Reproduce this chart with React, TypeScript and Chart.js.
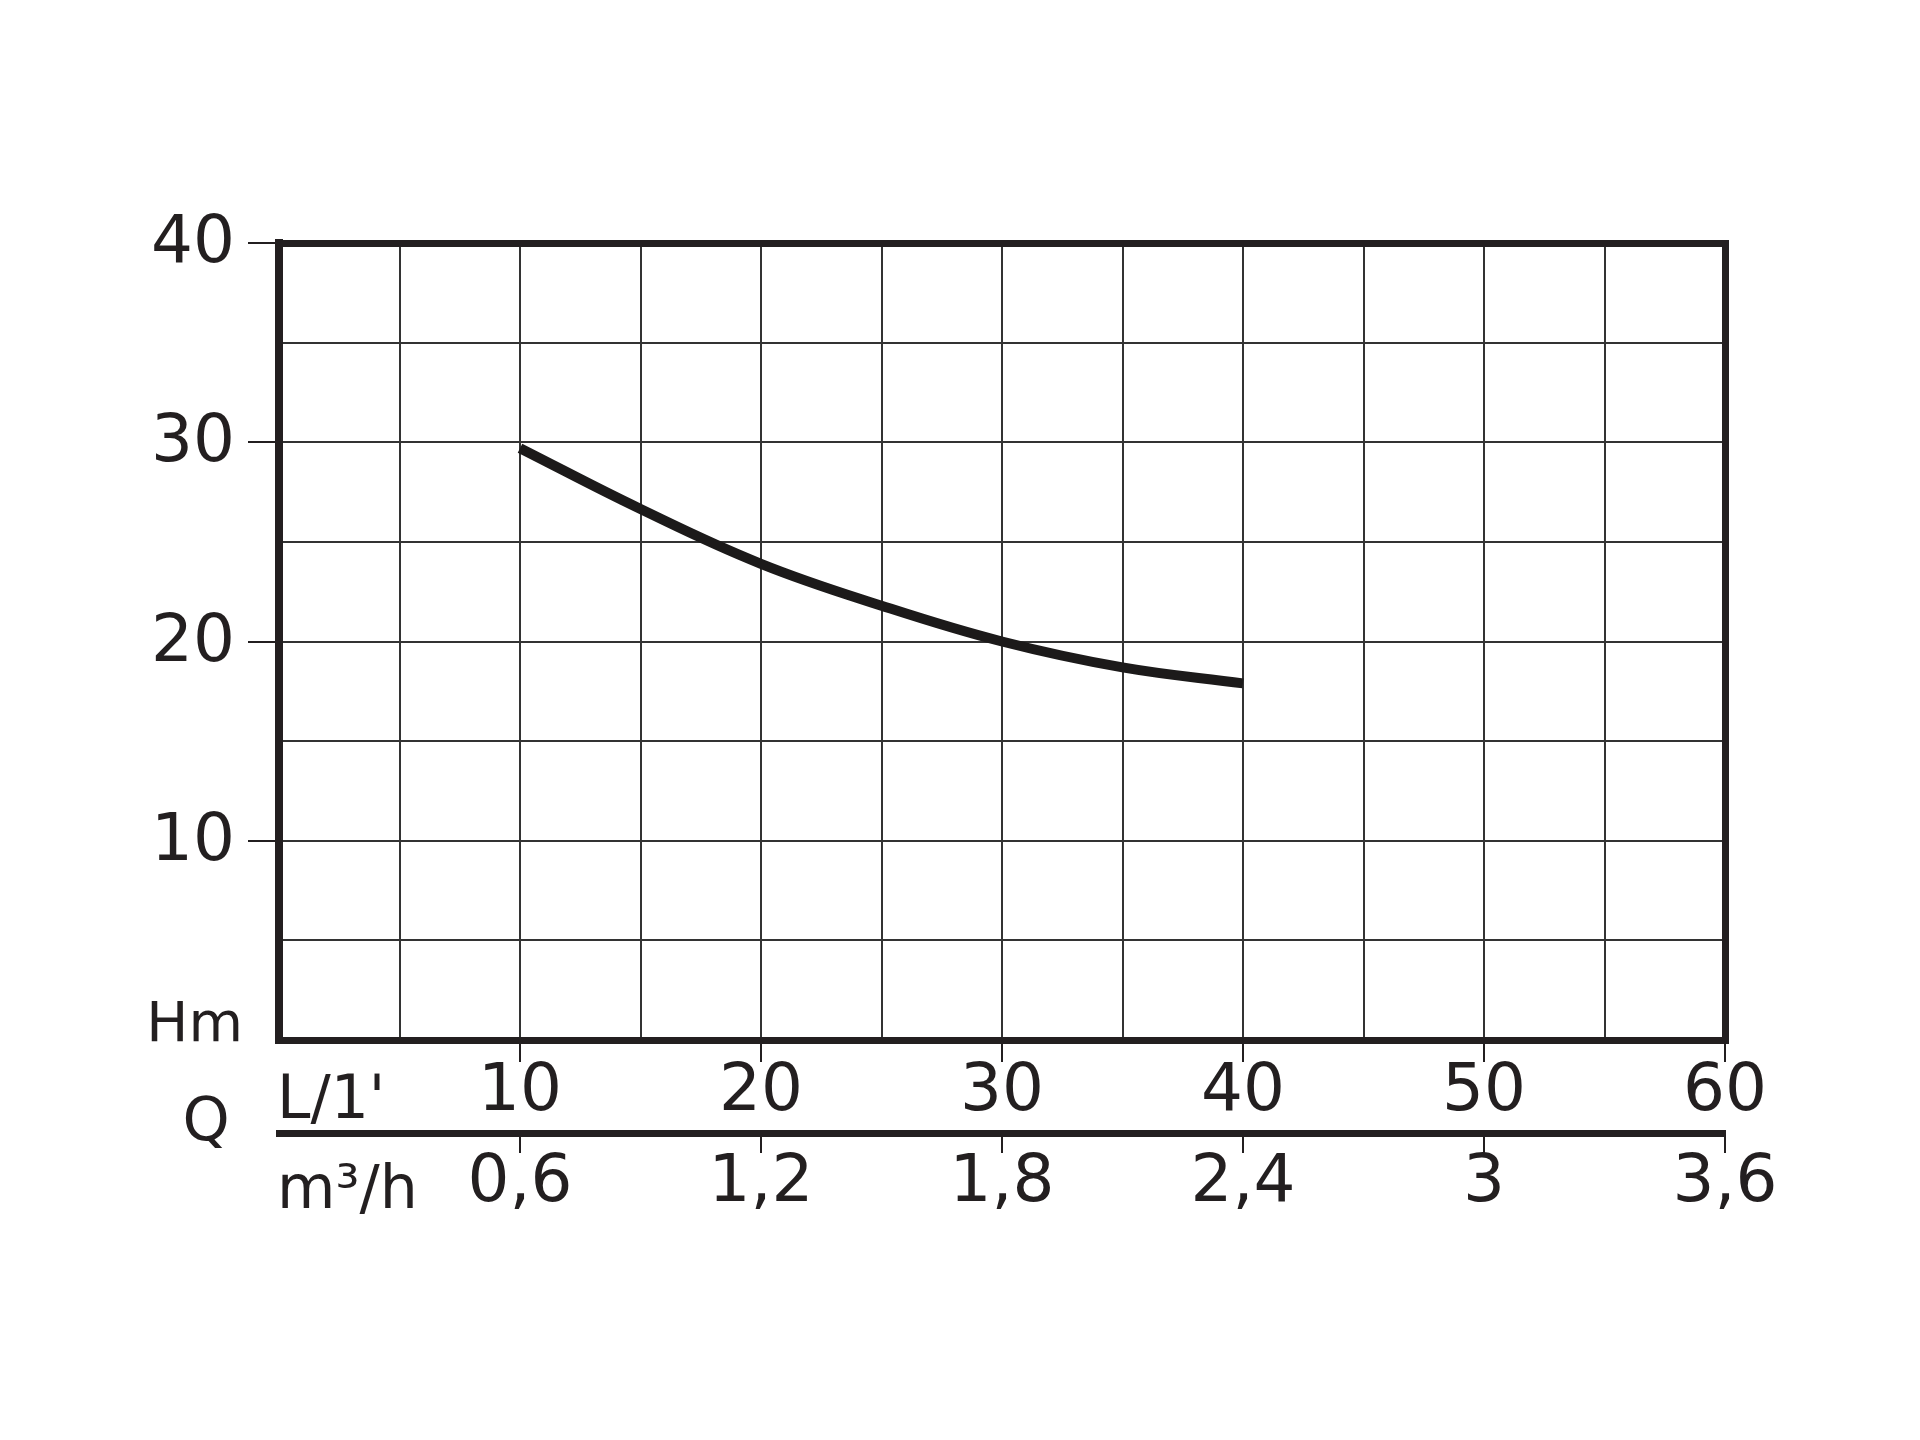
import { useEffect, useRef } from 'react';
import { Chart, registerables } from 'chart.js';

Chart.register(...registerables);

// ---- data ----
const flowLpm = [10, 15, 20, 25, 30, 35, 40];
const headM = [29.7, 26.65, 23.9, 21.8, 20.0, 18.7, 17.9];

const yLabelValues = [10, 20, 30, 40];
const yLabels = ['10', '20', '30', '40'];
const yUnit = 'Hm';

const xLabelValues = [10, 20, 30, 40, 50, 60];
const xLabelsLpm = ['10', '20', '30', '40', '50', '60'];
const xLabelsM3h = ['0,6', '1,2', '1,8', '2,4', '3', '3,6'];

const qLabel = 'Q';
const lpmUnit = "L/1'";
const m3hUnit = 'm³/h';

// ---- styles ----
const FONT = "'DejaVu Sans', sans-serif";
const INK = '#231f20';
const GRID = '#333333';
const CLEAR = 'rgba(0,0,0,0)';

const unitLabels = {
  id: 'unitLabels',
  afterDraw(chart: any) {
    const { ctx, scales } = chart;
    const xs = scales.x;
    const xs2 = scales.x2;
    const ys = scales.y;
    ctx.save();
    ctx.fillStyle = INK;
    ctx.textBaseline = 'alphabetic';
    ctx.font = `60px ${FONT}`;
    ctx.textAlign = 'left';
    ctx.fillText(lpmUnit, xs.left - 2, xs.top + 78);
    ctx.fillText(m3hUnit, xs2.left - 2, xs2.top + 75);
    ctx.textAlign = 'center';
    ctx.fillText(qLabel, xs.left - 73, xs2.top + 7);
    ctx.font = `56px ${FONT}`;
    ctx.textAlign = 'right';
    ctx.fillText(yUnit, ys.right - 36, ys.getPixelForValue(0) + 1);
    ctx.restore();
  },
};

export default function App() {
  const ref = useRef<HTMLCanvasElement | null>(null);

  useEffect(() => {
    if (!ref.current) return;
    const chart = new Chart(ref.current, {
      type: 'line',
      data: {
        datasets: [
          {
            data: flowLpm.map((x, i) => ({ x, y: headM[i] })),
            borderColor: '#1c1a1a',
            borderWidth: 10,
            borderCapStyle: 'butt',
            pointRadius: 0,
            tension: 0.4,
            fill: false,
          },
        ],
      },
      options: {
        animation: false,
        responsive: false,
        devicePixelRatio: 1,
        layout: { padding: { left: 0, top: 243, right: 195, bottom: 0 } },
        plugins: { legend: { display: false }, tooltip: { enabled: false } },
        scales: {
          x: {
            type: 'linear',
            position: 'bottom',
            min: 0,
            max: 60,
            afterFit: (s: any) => {
              s.height = 93;
            },
            ticks: {
              stepSize: 5,
              autoSkip: false,
              maxRotation: 0,
              padding: -2,
              color: INK,
              font: { family: FONT, size: 66, lineHeight: 1 },
              callback: (v: any) => {
                const i = xLabelValues.indexOf(Number(v));
                return i >= 0 ? xLabelsLpm[i] : '';
              },
            },
            grid: {
              color: GRID,
              lineWidth: (c: any) => (c.index === 0 ? 7 : 2),
              tickLength: 22,
              tickWidth: 2,
              tickColor: (c: any) =>
                c.tick && xLabelValues.includes(c.tick.value) ? INK : CLEAR,
            },
            border: { display: true, width: 7, color: INK },
          },
          x2: {
            type: 'linear',
            position: 'bottom',
            min: 0,
            max: 60,
            afterFit: (s: any) => {
              s.height = 307;
            },
            ticks: {
              stepSize: 5,
              autoSkip: false,
              maxRotation: 0,
              padding: -2,
              color: INK,
              font: { family: FONT, size: 66, lineHeight: 1 },
              callback: (v: any) => {
                const i = xLabelValues.indexOf(Number(v));
                return i >= 0 ? xLabelsM3h[i] : '';
              },
            },
            grid: {
              drawOnChartArea: false,
              color: GRID,
              lineWidth: 2,
              tickLength: 20,
              tickWidth: 2,
              tickColor: (c: any) =>
                c.tick && xLabelValues.includes(c.tick.value) ? INK : CLEAR,
            },
            border: { display: true, width: 7, color: INK },
          },
          xTop: {
            type: 'linear',
            position: 'top',
            min: 0,
            max: 60,
            afterFit: (s: any) => {
              s.height = 0;
            },
            ticks: { display: false },
            grid: { drawOnChartArea: false, drawTicks: false, lineWidth: 7 },
            border: { display: true, width: 7, color: INK },
          },
          y: {
            type: 'linear',
            position: 'left',
            min: 0,
            max: 40,
            afterFit: (s: any) => {
              s.width = 279;
            },
            ticks: {
              stepSize: 5,
              autoSkip: false,
              padding: 13,
              labelOffset: 2,
              color: INK,
              font: { family: FONT, size: 66, lineHeight: 1 },
              callback: (v: any) => {
                const i = yLabelValues.indexOf(Number(v));
                return i >= 0 ? yLabels[i] : '';
              },
            },
            grid: {
              color: GRID,
              lineWidth: (c: any) => (c.index === 0 ? 7 : 2),
              tickLength: 31,
              tickWidth: 2,
              tickColor: (c: any) =>
                c.tick && yLabelValues.includes(c.tick.value) ? INK : CLEAR,
            },
            border: { display: true, width: 8, color: INK },
          },
          yRight: {
            type: 'linear',
            position: 'right',
            min: 0,
            max: 40,
            afterFit: (s: any) => {
              s.width = 0;
            },
            ticks: { display: false },
            grid: { drawOnChartArea: false, drawTicks: false, lineWidth: 7 },
            border: { display: true, width: 7, color: INK },
          },
        },
      },
      plugins: [unitLabels],
    } as any);
    return () => chart.destroy();
  }, []);

  return (
    <div style={{ position: 'absolute', left: 0, top: 0, width: 1920, height: 1440, background: '#fff' }}>
      <canvas ref={ref} width={1920} height={1440} style={{ display: 'block' }} />
    </div>
  );
}
